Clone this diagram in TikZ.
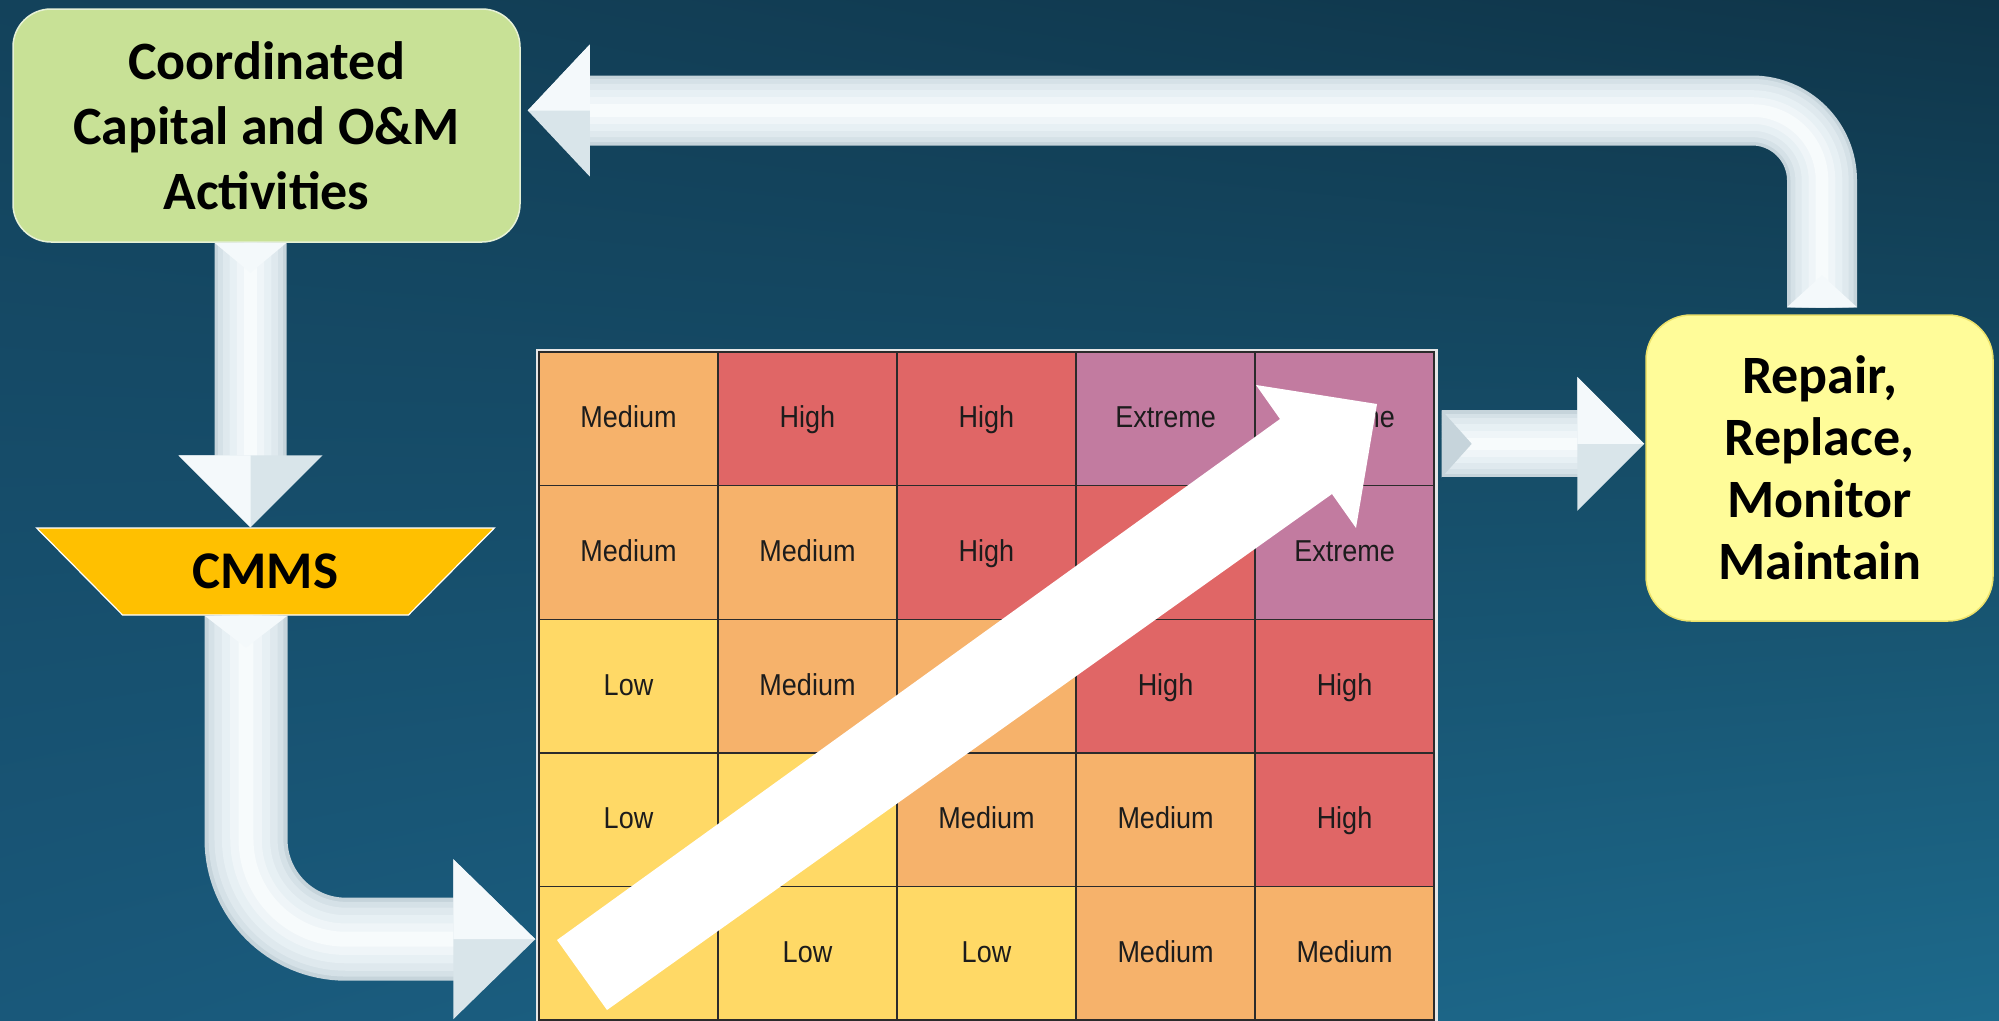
\documentclass[tikz,border=0pt]{standalone}
\usepackage{fontspec}
\usepackage{graphicx}
\setmainfont{Carlito}
\newfontfamily\cellfont{Liberation Sans}
\usetikzlibrary{shapes.geometric,calc,shadings}

\definecolor{bgUL}{HTML}{13425B}
\definecolor{bgUR}{HTML}{0F3549}
\definecolor{bgLL}{HTML}{19587A}
\definecolor{bgLR}{HTML}{1D6A8C}
\definecolor{boxgreen}{HTML}{C8E196}
\definecolor{greenedge}{HTML}{E6F1D6}
\definecolor{boxyellow}{HTML}{FFFC99}
\definecolor{yellowedge}{HTML}{EDE26A}
\definecolor{cmmsorange}{HTML}{FFC000}
\definecolor{cMed}{HTML}{F6B26B}
\definecolor{cHigh}{HTML}{E06666}
\definecolor{cExt}{HTML}{C27BA0}
\definecolor{cLow}{HTML}{FFD966}
\definecolor{celltext}{HTML}{1C1C1C}
\definecolor{cellline}{HTML}{2B2B2B}
\definecolor{framecol}{HTML}{E6E6E6}
\definecolor{tube1}{HTML}{C6D4DB}
\definecolor{tube2}{HTML}{D5E1E7}
\definecolor{tube3}{HTML}{DFE9EE}
\definecolor{tube4}{HTML}{E7F0F4}
\definecolor{tube5}{HTML}{EFF5F8}
\definecolor{tube6}{HTML}{F7FBFC}
\definecolor{headA}{HTML}{F4F9FB}
\definecolor{headB}{HTML}{D9E5EA}

\newcommand\tubeline[3]{%
  \draw[tube1, line width=#1pt, #2] #3;
  \draw[tube2, line width=0.9*#1pt, #2] #3;
  \draw[tube3, line width=0.76*#1pt, #2] #3;
  \draw[tube4, line width=0.58*#1pt, #2] #3;
  \draw[tube5, line width=0.38*#1pt, #2] #3;
  \draw[tube6, line width=0.18*#1pt, #2] #3;
}
\newcommand\blockhead[3]{%
  \fill[headB] (#1) -- (#3) -- (#2) -- cycle;
  \fill[headA] (#1) -- (#3) -- ($(#1)!0.5!(#2)$) -- cycle;
}
\newcommand\rcell[4]{%
  \node[cellbox, fill=#3] (c#1#2) at ({539+(#2-0.5)*179}, {352+(#1-0.5)*133.6}) {\scalebox{1}[1.12]{#4}};
}

\tikzset{
  labelbox/.style={align=center, text=black, inner sep=0pt,
    font=\fontsize{54}{65}\selectfont\bfseries},
  cellbox/.style={draw=cellline, line width=1.4pt, minimum width=179pt,
    minimum height=133.6pt, inner sep=0pt, text=celltext,
    text height=22pt, text depth=4pt,
    font=\cellfont\fontsize{27}{30}\selectfont},
}

\begin{document}
\begin{tikzpicture}[x=1pt,y=-1pt]
\useasboundingbox (0,0) rectangle (1999,1020);
\shade[upper left=bgUL, upper right=bgUR, lower left=bgLL, lower right=bgLR]
  (0,0) rectangle (1999,1020);

% risk matrix
\draw[framecol, line width=3pt] (537.5,350.5) rectangle (1436,1022);
\rcell{1}{1}{cMed}{Medium}
\rcell{1}{2}{cHigh}{High}
\rcell{1}{3}{cHigh}{High}
\rcell{1}{4}{cExt}{Extreme}
\rcell{1}{5}{cExt}{Extreme}
\rcell{2}{1}{cMed}{Medium}
\rcell{2}{2}{cMed}{Medium}
\rcell{2}{3}{cHigh}{High}
\rcell{2}{4}{cHigh}{}
\rcell{2}{5}{cExt}{Extreme}
\rcell{3}{1}{cLow}{Low}
\rcell{3}{2}{cMed}{Medium}
\rcell{3}{3}{cMed}{}
\rcell{3}{4}{cHigh}{High}
\rcell{3}{5}{cHigh}{High}
\rcell{4}{1}{cLow}{Low}
\rcell{4}{2}{cLow}{}
\rcell{4}{3}{cMed}{Medium}
\rcell{4}{4}{cMed}{Medium}
\rcell{4}{5}{cHigh}{High}
\rcell{5}{1}{cLow}{}
\rcell{5}{2}{cLow}{Low}
\rcell{5}{3}{cLow}{Low}
\rcell{5}{4}{cMed}{Medium}
\rcell{5}{5}{cMed}{Medium}

% diagonal white arrow over the matrix
\fill[white] (557,940) -- (1280,419) -- (1256,385) -- (1377,404)
  -- (1356,528) -- (1332,494) -- (607,1010) -- cycle;

% boxes
\node[labelbox, fill=boxgreen, draw=greenedge, line width=1.5pt,
  rounded corners=38pt, minimum width=507pt, minimum height=233pt]
  (green) at (266.5,125.5) {Coordinated\\Capital and O\&M\\Activities};
\node[labelbox, fill=boxyellow, draw=yellowedge, line width=1.5pt,
  rounded corners=45pt, minimum width=347pt, minimum height=306pt,
  font=\fontsize{54}{62}\selectfont\bfseries]
  (yellow) at (1819.5,468) {Repair,\\Replace,\\Monitor\\Maintain};
\node[trapezium, trapezium left angle=38.7, trapezium right angle=38.7,
  shape border rotate=180, trapezium stretches=true,
  minimum width=459pt, minimum height=87pt, fill=cmmsorange, draw=white,
  line width=1.2pt, inner sep=0pt, font=\fontsize{53}{60}\selectfont\bfseries]
  (cmms) at (265.5,571.5) {CMMS};

% A1: green -> CMMS
\coordinate (a1s) at ($(green.south)+(-16,0)$);
\coordinate (a1t) at ($(cmms.north)+(-15,0)$);
\coordinate (a1b) at ($(a1t)+(0,-72)$);
\coordinate (a1h1) at ($(a1b)+(-72,0)$);
\coordinate (a1h2) at ($(a1b)+(72,0)$);
\tubeline{72}{}{(a1s) -- ($(a1b)+(0,3)$)}
\fill[headA] ($(a1s)+(-36,0)$) -- ($(a1s)+(36,0)$) -- ($(a1s)+(0,30)$) -- cycle;
\blockhead{a1h1}{a1h2}{a1t}

% A2: CMMS -> matrix
\coordinate (a2s) at ($(cmms.south)+(-19.5,0)$);
\coordinate (a2t) at ($(c51.west)+(-3,-14)$);
\coordinate (a2b) at ($(a2t)+(-82,0)$);
\coordinate (a2h1) at ($(a2b)+(0,-80)$);
\coordinate (a2h2) at ($(a2b)+(0,80)$);
\tubeline{83}{rounded corners=100pt}{(a2s) |- ($(a2b)+(3,0)$)}
\fill[headA] ($(a2s)+(-41.5,0)$) -- ($(a2s)+(41.5,0)$) -- ($(a2s)+(0,32)$) -- cycle;
\blockhead{a2h1}{a2h2}{a2t}

% A3: matrix -> yellow
\coordinate (a3s) at ($(c15.east)+(7,25)$);
\coordinate (a3t) at ($(yellow.west |- a3s)+(-1,0)$);
\coordinate (a3b) at ($(a3t)+(-67,0)$);
\coordinate (a3h1) at ($(a3b)+(0,-67)$);
\coordinate (a3h2) at ($(a3b)+(0,67)$);
\tubeline{67}{}{(a3s) -- ($(a3b)+(3,0)$)}
\fill[tube1] ($(a3s)+(0,-33.5)$) -- ($(a3s)+(30,0)$) -- ($(a3s)+(0,33.5)$) -- cycle;
\blockhead{a3h1}{a3h2}{a3t}

% A4: yellow -> green
\coordinate (a4s) at ($(yellow.north)+(2.5,-7)$);
\coordinate (a4t) at ($(green.east)+(7,-15)$);
\coordinate (a4b) at ($(a4t)+(62,0)$);
\coordinate (a4h1) at ($(a4b)+(0,-66)$);
\coordinate (a4h2) at ($(a4b)+(0,66)$);
\tubeline{70}{rounded corners=70pt}{(a4s) |- ($(a4b)+(-3,0)$)}
\fill[headA] ($(a4s)+(-35,0)$) -- ($(a4s)+(35,0)$) -- ($(a4s)+(0,-32)$) -- cycle;
\blockhead{a4h1}{a4h2}{a4t}
\end{tikzpicture}
\end{document}
